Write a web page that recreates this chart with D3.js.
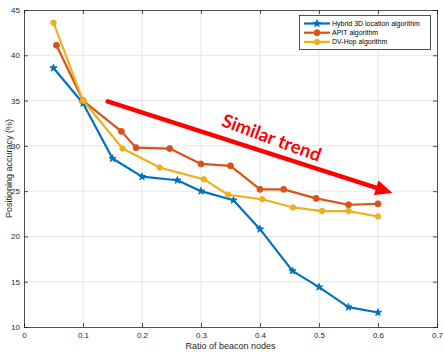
<!DOCTYPE html>
<html><head><meta charset="utf-8">
<script src="https://cdn.jsdelivr.net/npm/d3@7"></script>
<style>body{margin:0;background:#fff}svg{display:block}text{font-family:"Liberation Sans",Arial,sans-serif}</style>
</head><body><svg id="c" width="444" height="352"></svg>
<script>
const seriesNames = ["Hybrid 3D location algorithm", "APIT algorithm", "DV-Hop algorithm"];
const hybridX = [0.05, 0.1, 0.15, 0.2, 0.26, 0.3, 0.355, 0.4, 0.455, 0.5, 0.55, 0.6];
const hybridY = [38.6, 34.7, 28.6, 26.6, 26.2, 25.0, 24.0, 20.8, 16.2, 14.4, 12.2, 11.6];
const apitX = [0.055, 0.1, 0.165, 0.19, 0.247, 0.3, 0.35, 0.4, 0.44, 0.495, 0.55, 0.6];
const apitY = [41.1, 35.0, 31.6, 29.8, 29.7, 28.0, 27.8, 25.2, 25.2, 24.2, 23.5, 23.6];
const dvhopX = [0.05, 0.1, 0.167, 0.23, 0.305, 0.346, 0.404, 0.456, 0.505, 0.55, 0.6];
const dvhopY = [43.6, 35.0, 29.7, 27.6, 26.3, 24.6, 24.1, 23.2, 22.8, 22.8, 22.2];
const xTicks = [0, 0.1, 0.2, 0.3, 0.4, 0.5, 0.6, 0.7];
const yTicks = [10, 15, 20, 25, 30, 35, 40, 45];
const arrowFrom = [0.1416, 34.9];
const arrowTo = [0.6244, 24.8];
const annotText = "Similar trend";
const annotPos = [0.4196, 30.9];

const colors = ["#0072BD", "#D95319", "#EDB120"];
const svg = d3.select("#c");
const L = 24, R = 437, T = 10, B = 327;
const x = d3.scaleLinear().domain([0, 0.7]).range([L, R]);
const y = d3.scaleLinear().domain([10, 45]).range([B, T]);

// grid
const g = svg.append("g");
g.selectAll(".gx").data(xTicks.slice(1, -1)).join("line")
  .attr("x1", d => x(d)).attr("x2", d => x(d)).attr("y1", T).attr("y2", B)
  .attr("stroke", "#e6e6e6").attr("stroke-width", 1);
g.selectAll(".gy").data(yTicks.slice(1, -1)).join("line")
  .attr("y1", d => y(d)).attr("y2", d => y(d)).attr("x1", L).attr("x2", R)
  .attr("stroke", "#e6e6e6").attr("stroke-width", 1);

// axes
const xAxis = d3.axisBottom(x).tickValues(xTicks).tickSize(-4).tickPadding(5).tickFormat(d3.format("~g"));
const yAxis = d3.axisLeft(y).tickValues(yTicks).tickSize(-4).tickPadding(4);
const xa = svg.append("g").attr("transform", `translate(0,${B})`).call(xAxis);
const ya = svg.append("g").attr("transform", `translate(${L},0)`).call(yAxis);
const xt = svg.append("g").attr("transform", `translate(0,${T})`).call(d3.axisTop(x).tickValues(xTicks).tickSize(-4).tickFormat(""));
const yr = svg.append("g").attr("transform", `translate(${R},0)`).call(d3.axisRight(y).tickValues(yTicks).tickSize(-4).tickFormat(""));
[xa, ya, xt, yr].forEach(a => {
  a.selectAll("path").attr("stroke", "#262626").attr("stroke-width", 0.8);
  a.selectAll("line").attr("stroke", "#262626").attr("stroke-width", 0.8);
  a.selectAll("text").attr("fill", "#262626").attr("font-size", 8);
});
xa.selectAll("text").attr("dy", "0.71em");

svg.append("text").attr("x", (L + R) / 2).attr("y", 349).attr("text-anchor", "middle")
  .attr("font-size", 9).attr("fill", "#262626").text("Ratio of beacon nodes");
svg.append("text").attr("transform", `translate(9,${(T + B) / 2}) rotate(-90)`).attr("text-anchor", "middle")
  .attr("dy", "0.35em").attr("font-size", 9).attr("fill", "#262626").text("Positioning accuracy (%)");

// series
const series = [
  {xs: hybridX, ys: hybridY, marker: d3.symbolStar, size: 16},
  {xs: apitX, ys: apitY, marker: d3.symbolCircle, size: 28},
  {xs: dvhopX, ys: dvhopY, marker: d3.symbolCircle, size: 24}
];
const line = d3.line().x(d => x(d[0])).y(d => y(d[1]));
series.forEach((s, i) => {
  const pts = s.xs.map((v, k) => [v, s.ys[k]]);
  svg.append("path").datum(pts).attr("d", line).attr("fill", "none")
    .attr("stroke", colors[i]).attr("stroke-width", 2.2).attr("stroke-linejoin", "round");
  svg.selectAll(null).data(pts).join("path")
    .attr("transform", d => `translate(${x(d[0])},${y(d[1])})`)
    .attr("d", d3.symbol().type(s.marker).size(s.size)).attr("fill", colors[i]).attr("stroke", colors[i]).attr("stroke-width", 1);
});

// arrow annotation
const ax1 = x(arrowFrom[0]), ay1 = y(arrowFrom[1]), ax2 = x(arrowTo[0]), ay2 = y(arrowTo[1]);
const ang = Math.atan2(ay2 - ay1, ax2 - ax1);
const hl = 17, hw = 7.5;
const bx = ax2 - hl * Math.cos(ang), by = ay2 - hl * Math.sin(ang);
svg.append("line").attr("x1", ax1).attr("y1", ay1).attr("x2", bx + 2 * Math.cos(ang)).attr("y2", by + 2 * Math.sin(ang))
  .attr("stroke", "#ff0000").attr("stroke-width", 4.5).attr("stroke-linecap", "round");
svg.append("path").attr("d", `M${ax2},${ay2}L${bx + hw * Math.sin(ang)},${by - hw * Math.cos(ang)}L${bx - hw * Math.sin(ang)},${by + hw * Math.cos(ang)}Z`)
  .attr("fill", "#ff0000");
svg.append("text").attr("transform", `translate(${x(annotPos[0])},${y(annotPos[1])}) rotate(${ang * 180 / Math.PI + 2.5})`)
  .attr("text-anchor", "middle").attr("dy", "0.35em").style("font-family", "Lato, 'Open Sans', sans-serif")
  .attr("font-weight", "bold").attr("font-size", 18.5).attr("fill", "#ff0000").text(annotText);

// legend
const lg = svg.append("g");
lg.append("rect").attr("x", 299.5).attr("y", 15.5).attr("width", 131).attr("height", 34)
  .attr("fill", "#fff").attr("stroke", "#262626").attr("stroke-width", 0.8);
seriesNames.forEach((n, i) => {
  const yy = 23.5 + i * 9.2;
  lg.append("line").attr("x1", 304).attr("x2", 330).attr("y1", yy).attr("y2", yy)
    .attr("stroke", colors[i]).attr("stroke-width", 2.2);
  lg.append("path").attr("transform", `translate(317,${yy})`)
    .attr("d", d3.symbol().type(series[i].marker).size(series[i].size)).attr("fill", colors[i]).attr("stroke", colors[i]).attr("stroke-width", 1);
  lg.append("text").attr("x", 332).attr("y", yy).attr("dy", "0.35em").attr("font-size", 7)
    .attr("fill", "#000").text(n);
});
</script></body></html>
